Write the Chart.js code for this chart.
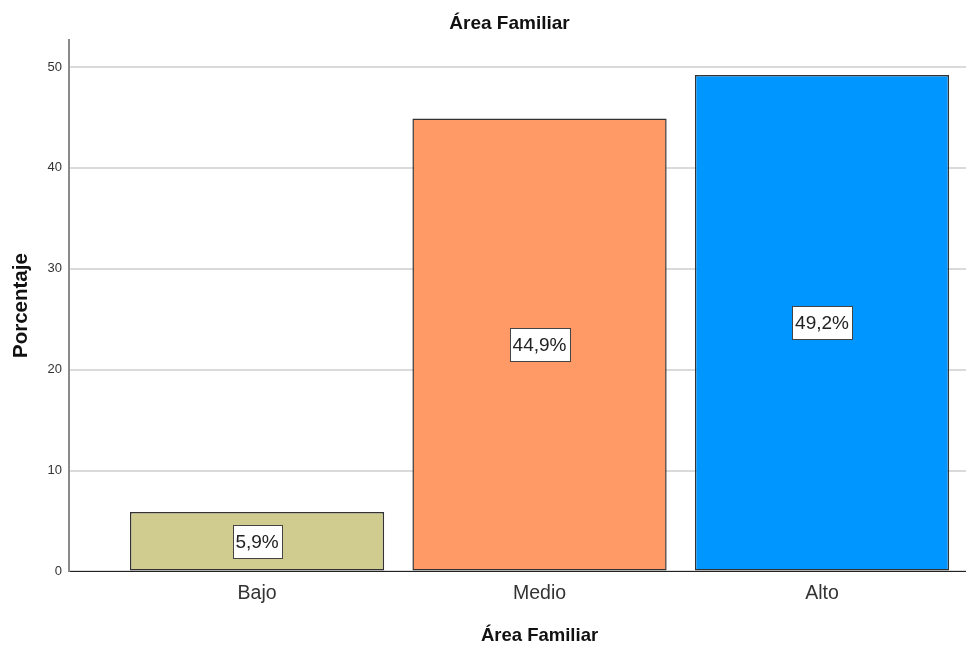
<!DOCTYPE html>
<html>
<head>
<meta charset="utf-8">
<script src="https://cdn.jsdelivr.net/npm/chart.js@4.4.1/dist/chart.umd.min.js"></script>
<style>
  html, body { margin: 0; padding: 0; overflow: hidden; background: #fff; }
  canvas { display: block; }
</style>
</head>
<body>
<canvas id="myChart" width="1010" height="648"></canvas>
<script>
var categories = ['Bajo', 'Medio', 'Alto'];
var porcentajes = [5.9, 44.9, 49.2];
var yTicks = [0, 10, 20, 30, 40, 50];
var barColors = ['#d0cb8f', '#ff9966', '#0096ff'];

var FONT = '"Liberation Sans", Arial, sans-serif';

// caja blanca con el porcentaje en el centro de cada barra
var barLabels = {
    id: 'barLabels',
    afterDatasetsDraw: function(chart) {
        var ctx = chart.ctx;
        var meta = chart.getDatasetMeta(0);
        ctx.save();
        ctx.font = '19px ' + FONT;
        ctx.textAlign = 'center';
        ctx.textBaseline = 'middle';
        meta.data.forEach(function(bar, i) {
            var text = porcentajes[i].toFixed(1).replace('.', ',') + '%';
            var w = Math.round(ctx.measureText(text).width) + 6;
            var h = 33;
            var x = Math.round(bar.x - w / 2) + 0.5;
            var y = Math.round((bar.y + bar.base) / 2 - h / 2) + 0.5;
            ctx.fillStyle = '#ffffff';
            ctx.fillRect(x, y, w, h);
            ctx.strokeStyle = '#444444';
            ctx.lineWidth = 1;
            ctx.strokeRect(x, y, w, h);
            ctx.fillStyle = '#222222';
            ctx.fillText(text, bar.x, y + h / 2 + 1);
        });
        ctx.restore();
    }
};

var ctx = document.getElementById('myChart').getContext('2d');
var myChart = new Chart(ctx, {
    type: 'bar',
    data: {
        datasets: [{
            label: 'Porcentaje',
            data: porcentajes.map(function(v, i) { return { x: i, y: v }; }),
            backgroundColor: barColors,
            borderColor: '#333333',
            borderWidth: 1.5,
            borderSkipped: false,
            barPercentage: 0.9,
            categoryPercentage: 1
        }]
    },
    options: {
        responsive: false,
        animation: false,
        layout: { padding: { left: 9, right: 0, top: 4, bottom: 1 } },
        plugins: {
            legend: { display: false },
            tooltip: { enabled: false },
            title: {
                display: true,
                text: 'Área Familiar',
                color: '#111',
                font: { family: FONT, size: 19, weight: 'bold' },
                padding: { top: 8, bottom: 5 }
            }
        },
        scales: {
            x: {
                type: 'linear',
                offset: false,
                min: -0.6655,
                max: 2.6655,
                afterBuildTicks: function(scale) {
                    scale.ticks = categories.map(function(c, i) { return { value: i }; });
                },
                ticks: {
                    callback: function(value) { return categories[value]; },
                    color: '#333',
                    font: { family: FONT, size: 19.5 },
                    padding: 11,
                    maxRotation: 0,
                    autoSkip: false
                },
                grid: { display: false, drawTicks: false },
                border: { display: true, color: '#222', width: 1 },
                title: {
                    display: true,
                    text: 'Área Familiar',
                    color: '#111',
                    font: { family: FONT, size: 18.5, weight: 'bold' },
                    padding: { top: 8, bottom: 0 }
                }
            },
            y: {
                min: 0,
                max: 52.7,
                afterBuildTicks: function(scale) {
                    scale.ticks = yTicks.map(function(v) { return { value: v }; });
                },
                ticks: {
                    color: '#333',
                    font: { family: FONT, size: 13 },
                    padding: 7
                },
                grid: { color: '#dadada', lineWidth: 2, drawTicks: false },
                border: { display: true, color: '#8a8a8a', width: 2 },
                title: {
                    display: true,
                    text: 'Porcentaje',
                    color: '#111',
                    font: { family: FONT, size: 20.5, weight: 'bold' },
                    padding: { top: 0, bottom: 7 }
                }
            }
        }
    },
    plugins: [barLabels]
});
</script>
</body>
</html>
